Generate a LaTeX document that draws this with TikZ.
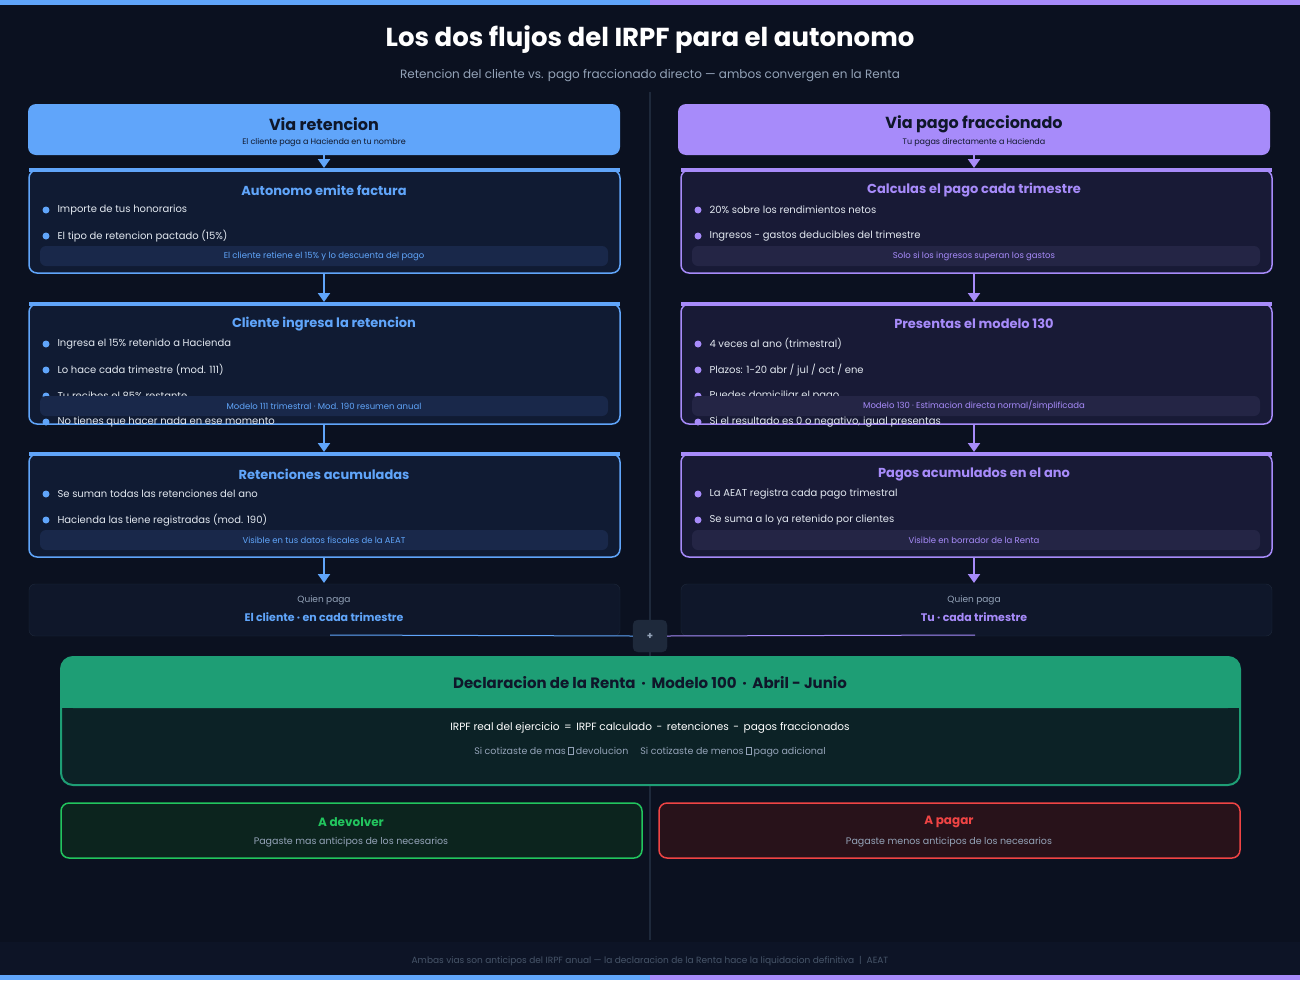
\documentclass[tikz,border=0pt]{standalone}
\usepackage{fontspec}
\setmainfont{Poppins}
\usetikzlibrary{arrows.meta}
\definecolor{bg}{HTML}{0B1120}
\definecolor{blu}{HTML}{60A5FA}
\definecolor{pur}{HTML}{A78BFA}
\definecolor{boxl}{HTML}{101B33}
\definecolor{boxr}{HTML}{181A36}
\definecolor{notel}{HTML}{19284A}
\definecolor{noter}{HTML}{242545}
\definecolor{dk}{HTML}{0F172A}
\definecolor{grn}{HTML}{1E9E75}
\definecolor{grb}{HTML}{0C2226}
\definecolor{okg}{HTML}{22C55E}
\definecolor{okf}{HTML}{0C241E}
\definecolor{bad}{HTML}{EF4444}
\definecolor{badf}{HTML}{28121A}
\definecolor{txt}{HTML}{E2E8F0}
\definecolor{mut}{HTML}{94A3B8}
\definecolor{edge}{HTML}{1E293B}
\definecolor{foot}{HTML}{0D1426}
\definecolor{foottxt}{HTML}{475569}
\newcommand{\tofu}{\tikz[baseline=0pt]\draw[mut,line width=0.4pt](0,0)rectangle(4.5pt,7pt);}
\tikzset{
 x=1pt,y=-1pt,
 ttl/.style={font=\bfseries\fontsize{13}{15}\selectfont},
 itm/.style={anchor=west,text=txt,font=\fontsize{10}{12}\selectfont},
 nt/.style={font=\fontsize{8.5}{10}\selectfont},
 arr/.style={line width=2.2pt,-{Triangle[width=12pt,length=9pt]}},
}
\begin{document}
\begin{tikzpicture}
\fill[bg] (0,0) rectangle (1300,980);
\fill[blu] (0,0) rectangle (650,5);
\fill[pur] (650,0) rectangle (1300,5);
\node[text=white,font=\bfseries\fontsize{26}{30}\selectfont] (title) at (650,40) {Los dos flujos del IRPF para el autonomo};
\node[text=mut,font=\fontsize{12}{14}\selectfont] (sub) at (650,76) {Retencion del cliente vs. pago fraccionado directo — ambos convergen en la Renta};
\draw[edge,line width=1.5pt] (650,92) -- (650,940);

% ---------- LEFT ----------
\fill[blu,rounded corners=8] (28,104) rectangle (620,155);
\node[text=dk,font=\bfseries\fontsize{16}{18}\selectfont] (lh) at (324,124) {Via retencion};
\node[text=dk,font=\fontsize{8}{10}\selectfont] (lhs) at (324,143) {El cliente paga a Hacienda en tu nombre};
\coordinate (lh0) at (324,155); \coordinate (lb1t) at (324,168);
\draw[blu,arr] (lh0) -- (lb1t);
\draw[blu,fill=boxl,line width=1.5pt,rounded corners=8] (29,170) rectangle (620,273);
\draw[blu,line width=4pt] (29,170) -- (620,170);
\node[ttl,text=blu] (l1) at (324,190) {Autonomo emite factura};
\fill[blu] (46,210) circle (3.5); \node[itm] at (54,210) {Importe de tus honorarios};
\fill[blu] (46,236) circle (3.5); \node[itm] at (54,236) {El tipo de retencion pactado (15\%)};
\fill[notel,rounded corners=6] (40,246) rectangle (608,266);
\node[nt,text=blu] at (324,256) {El cliente retiene el 15\% y lo descuenta del pago};
\coordinate (l1b) at (324,273); \coordinate (l2t) at (324,302);
\draw[blu,arr] (l1b) -- (l2t);
\draw[blu,fill=boxl,line width=1.5pt,rounded corners=8] (29,304) rectangle (620,424);
\draw[blu,line width=4pt] (29,304) -- (620,304);
\node[ttl,text=blu] (l2) at (324,324) {Cliente ingresa la retencion};
\fill[blu] (46,344) circle (3.5); \node[itm] at (54,344) {Ingresa el 15\% retenido a Hacienda};
\fill[blu] (46,370) circle (3.5); \node[itm] at (54,370) {Lo hace cada trimestre (mod. 111)};
\fill[blu] (46,396) circle (3.5); \node[itm] at (54,396) {Tu recibes el 85\% restante};
\fill[blu] (46,422) circle (3.5); \node[itm] at (54,422) {No tienes que hacer nada en ese momento};
\fill[notel,rounded corners=6] (40,396) rectangle (608,416);
\node[nt,text=blu] at (324,406) {Modelo 111 trimestral · Mod. 190 resumen anual};
\coordinate (l2b) at (324,424); \coordinate (l3t) at (324,452);
\draw[blu,arr] (l2b) -- (l3t);
\draw[blu,fill=boxl,line width=1.5pt,rounded corners=8] (29,454) rectangle (620,557);
\draw[blu,line width=4pt] (29,454) -- (620,454);
\node[ttl,text=blu] (l3) at (324,474) {Retenciones acumuladas};
\fill[blu] (46,494) circle (3.5); \node[itm] at (54,494) {Se suman todas las retenciones del ano};
\fill[blu] (46,520) circle (3.5); \node[itm] at (54,520) {Hacienda las tiene registradas (mod. 190)};
\fill[notel,rounded corners=6] (40,530) rectangle (608,550);
\node[nt,text=blu] at (324,540) {Visible en tus datos fiscales de la AEAT};
\coordinate (l3b) at (324,557); \coordinate (lqt) at (324,583);
\draw[blu,arr] (l3b) -- (lqt);
\draw[edge,fill=dk,rounded corners=6] (29,584) rectangle (620,636);
\node[text=mut,font=\fontsize{9}{11}\selectfont] at (324,600) {Quien paga};
\node[text=blu,font=\bfseries\fontsize{11}{13}\selectfont] (lq) at (324,617) {El cliente · en cada trimestre};

% ---------- RIGHT ----------
\fill[pur,rounded corners=8] (678,104) rectangle (1270,155);
\node[text=dk,font=\bfseries\fontsize{16}{18}\selectfont] (rh) at (974,124) {Via pago fraccionado};
\node[text=dk,font=\fontsize{8}{10}\selectfont] at (974,143) {Tu pagas directamente a Hacienda};
\coordinate (rh0) at (974,155); \coordinate (rb1t) at (974,168);
\draw[pur,arr] (rh0) -- (rb1t);
\draw[pur,fill=boxr,line width=1.5pt,rounded corners=8] (681,170) rectangle (1272,273);
\draw[pur,line width=4pt] (681,170) -- (1272,170);
\node[ttl,text=pur] at (974,190) {Calculas el pago cada trimestre};
\fill[pur] (698,210) circle (3.5); \node[itm] at (706,210) {20\% sobre los rendimientos netos};
\fill[pur] (698,236) circle (3.5); \node[itm] at (706,236) {Ingresos - gastos deducibles del trimestre};
\fill[noter,rounded corners=6] (692,246) rectangle (1260,266);
\node[nt,text=pur] at (974,256) {Solo si los ingresos superan los gastos};
\coordinate (r1b) at (974,273); \coordinate (r2t) at (974,302);
\draw[pur,arr] (r1b) -- (r2t);
\draw[pur,fill=boxr,line width=1.5pt,rounded corners=8] (681,304) rectangle (1272,424);
\draw[pur,line width=4pt] (681,304) -- (1272,304);
\node[ttl,text=pur] at (974,324) {Presentas el modelo 130};
\fill[pur] (698,344) circle (3.5); \node[itm] at (706,344) {4 veces al ano (trimestral)};
\fill[pur] (698,370) circle (3.5); \node[itm] at (706,370) {Plazos: 1-20 abr / jul / oct / ene};
\fill[pur] (698,396) circle (3.5); \node[itm] at (706,396) {Puedes domiciliar el pago};
\fill[pur] (698,422) circle (3.5); \node[itm] at (706,422) {Si el resultado es 0 o negativo, igual presentas};
\fill[noter,rounded corners=6] (692,396) rectangle (1260,416);
\node[nt,text=pur] at (974,406) {Modelo 130 · Estimacion directa normal/simplificada};
\coordinate (r2b) at (974,424); \coordinate (r3t) at (974,452);
\draw[pur,arr] (r2b) -- (r3t);
\draw[pur,fill=boxr,line width=1.5pt,rounded corners=8] (681,454) rectangle (1272,557);
\draw[pur,line width=4pt] (681,454) -- (1272,454);
\node[ttl,text=pur] at (974,474) {Pagos acumulados en el ano};
\fill[pur] (698,494) circle (3.5); \node[itm] at (706,494) {La AEAT registra cada pago trimestral};
\fill[pur] (698,520) circle (3.5); \node[itm] at (706,520) {Se suma a lo ya retenido por clientes};
\fill[noter,rounded corners=6] (692,530) rectangle (1260,550);
\node[nt,text=pur] at (974,540) {Visible en borrador de la Renta};
\coordinate (r3b) at (974,557); \coordinate (rqt) at (974,583);
\draw[pur,arr] (r3b) -- (rqt);
\draw[edge,fill=dk,rounded corners=6] (681,584) rectangle (1272,636);
\node[text=mut,font=\fontsize{9}{11}\selectfont] at (974,600) {Quien paga};
\node[text=pur,font=\bfseries\fontsize{11}{13}\selectfont] (rq) at (974,617) {Tu · cada trimestre};

% convergence
\coordinate (cl) at (330,635); \coordinate (cr) at (975,635);
\node[draw=edge,fill=edge,rounded corners=5,minimum width=34,minimum height=32,text=mut,font=\bfseries\fontsize{10}{10}\selectfont] (plus) at (650,636) {+};
\draw[blu,line width=1pt] (cl) -- (plus.west);
\draw[pur,line width=1pt] (plus.east) -- (cr);
\coordinate (rt) at (650,656);
\draw[edge,line width=1pt] (plus.south) -- (rt);

% Renta
\fill[grb,rounded corners=12] (61,657) rectangle (1240,785);
\fill[grn,rounded corners=12] (61,657) rectangle (1240,708);
\fill[grn] (61,690) rectangle (1240,708);
\draw[grn,line width=2pt,rounded corners=12] (61,657) rectangle (1240,785);
\node[text=dk,font=\bfseries\fontsize{15}{17}\selectfont] (renta) at (650,683) {Declaracion de la Renta \,·\, Modelo 100 \,·\, Abril - Junio};
\node[text=white,font=\fontsize{10.5}{12}\selectfont] at (650,728) {IRPF real del ejercicio \,=\, IRPF calculado \,-\, retenciones \,-\, pagos fraccionados};
\node[text=mut,font=\fontsize{9.5}{11}\selectfont] at (650,752) {Si cotizaste de mas \tofu{} devolucion \quad Si cotizaste de menos \tofu{} pago adicional};

% outcomes
\draw[okg,fill=okf,line width=1.5pt,rounded corners=8] (61,803) rectangle (642,858);
\node[text=okg,font=\bfseries\fontsize{12}{14}\selectfont] (dev) at (351,822) {A devolver};
\node[text=mut,font=\fontsize{9.5}{11}\selectfont] at (351,842) {Pagaste mas anticipos de los necesarios};
\draw[bad,fill=badf,line width=1.5pt,rounded corners=8] (659,803) rectangle (1240,858);
\node[text=bad,font=\bfseries\fontsize{12}{14}\selectfont] (pag) at (949,822) {A pagar};
\node[text=mut,font=\fontsize{9.5}{11}\selectfont] at (949,842) {Pagaste menos anticipos de los necesarios};

% footer
\fill[foot] (0,942) rectangle (1300,975);
\node[text=foottxt,font=\fontsize{9}{11}\selectfont] at (650,961) {Ambas vias son anticipos del IRPF anual — la declaracion de la Renta hace la liquidacion definitiva \;|\; AEAT};
\fill[blu] (0,975) rectangle (650,980);
\fill[pur] (650,975) rectangle (1300,980);
\end{tikzpicture}
\end{document}
